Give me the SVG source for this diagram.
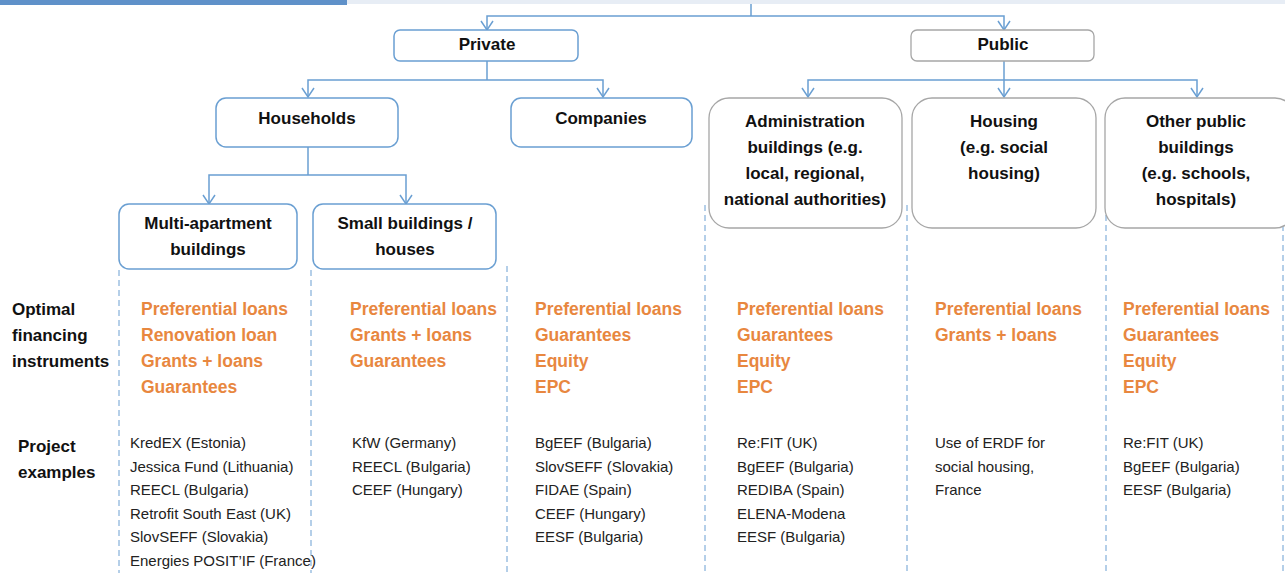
<svg xmlns="http://www.w3.org/2000/svg" width="1285" height="573" viewBox="0 0 1285 573">
<style>
  .bx{fill:#fff;stroke:#6a9fd2;stroke-width:1.5}
  .gx{fill:#fff;stroke:#a6a6a6;stroke-width:1.3}
  .h{font-family:"Liberation Sans",Arial,sans-serif;font-weight:bold;font-size:17px;fill:#111;text-anchor:middle}
  .lab{font-family:"Liberation Sans",Arial,sans-serif;font-weight:bold;font-size:17px;fill:#111}
  .or{font-family:"Liberation Sans",Arial,sans-serif;font-weight:bold;font-size:17.5px;fill:#e8873f}
  .ex{font-family:"Liberation Sans",Arial,sans-serif;font-size:15px;fill:#222}
  .c{fill:none;stroke:#6a9fd2;stroke-width:1.5}
  .d{fill:none;stroke:#6a9fd2;stroke-width:1;stroke-dasharray:6 4}
</style>
<defs>
  <marker id="v" markerWidth="12" markerHeight="14" refX="10" refY="7" orient="auto-start-reverse" markerUnits="userSpaceOnUse" viewBox="0 0 12 14">
    <polyline points="1,1 10,7 1,13" fill="none" stroke="#6a9fd2" stroke-width="1.5"/>
  </marker>
</defs>
<rect x="0" y="0" width="1285" height="573" fill="#fff"/>
<rect x="0" y="0" width="1285" height="4" fill="#e7edf5"/>
<rect x="0" y="0" width="347" height="5" fill="#5f91c9"/>

<g id="connectors">
  <path class="c" d="M751 4 V16"/>
  <path class="c" d="M487 30 V16 H1004 V30" marker-start="url(#v)" marker-end="url(#v)"/>
  <path class="c" d="M487 61 V80"/>
  <path class="c" d="M308 97 V80 H603 V97" marker-start="url(#v)" marker-end="url(#v)"/>
  <path class="c" d="M1004 61 V97" marker-end="url(#v)"/>
  <path class="c" d="M808 97 V80 H1197 V97" marker-start="url(#v)" marker-end="url(#v)"/>
  <path class="c" d="M308 147 V175"/>
  <path class="c" d="M209 204 V175 H406 V204" marker-start="url(#v)" marker-end="url(#v)"/>
</g>

<g id="guides">
  <path class="d" d="M119 270 V573"/>
  <path class="d" d="M311 270 V573"/>
  <path class="d" d="M507 266 V573"/>
  <path class="d" d="M705 205 V573"/>
  <path class="d" d="M907 205 V573"/>
  <path class="d" d="M1106 205 V573"/>
  <path class="d" d="M1283 205 V573"/>
</g>

<g id="private">
  <rect class="bx" x="394" y="30" width="184" height="31" rx="6"/>
  <text class="h" x="487" y="50">Private</text>
</g>
<g id="public">
  <rect class="gx" x="911" y="30" width="183" height="31" rx="6"/>
  <text class="h" x="1003" y="50">Public</text>
</g>
<g id="households">
  <rect class="bx" x="216" y="98" width="182" height="49" rx="10"/>
  <text class="h" x="307" y="124">Households</text>
</g>
<g id="companies">
  <rect class="bx" x="511" y="98" width="181" height="49" rx="10"/>
  <text class="h" x="601" y="124">Companies</text>
</g>
<g id="administration">
  <rect class="gx" x="709" y="98" width="193" height="130" rx="20"/>
  <text class="h" x="805" y="127">Administration</text>
  <text class="h" x="805" y="153">buildings (e.g.</text>
  <text class="h" x="805" y="179">local, regional,</text>
  <text class="h" x="805" y="205">national authorities)</text>
</g>
<g id="housing">
  <rect class="gx" x="912" y="98" width="184" height="130" rx="20"/>
  <text class="h" x="1004" y="127">Housing</text>
  <text class="h" x="1004" y="153">(e.g. social</text>
  <text class="h" x="1004" y="179">housing)</text>
</g>
<g id="other-public">
  <rect class="gx" x="1105" y="98" width="190" height="130" rx="20"/>
  <text class="h" x="1196" y="127">Other public</text>
  <text class="h" x="1196" y="153">buildings</text>
  <text class="h" x="1196" y="179">(e.g. schools,</text>
  <text class="h" x="1196" y="205">hospitals)</text>
</g>
<g id="multi-apartment">
  <rect class="bx" x="119" y="204" width="178" height="65" rx="10"/>
  <text class="h" x="208" y="229">Multi-apartment</text>
  <text class="h" x="208" y="255">buildings</text>
</g>
<g id="small-buildings">
  <rect class="bx" x="313" y="204" width="183" height="65" rx="10"/>
  <text class="h" x="405" y="229">Small buildings /</text>
  <text class="h" x="405" y="255">houses</text>
</g>

<g id="row-labels">
  <text class="lab" x="12" y="315">Optimal</text>
  <text class="lab" x="12" y="341">financing</text>
  <text class="lab" x="12" y="367">instruments</text>
  <text class="lab" x="18" y="452">Project</text>
  <text class="lab" x="18" y="478">examples</text>
</g>

<g id="instruments">
  <text class="or" x="141" y="315">Preferential loans</text>
  <text class="or" x="141" y="341">Renovation loan</text>
  <text class="or" x="141" y="367">Grants + loans</text>
  <text class="or" x="141" y="393">Guarantees</text>

  <text class="or" x="350" y="315">Preferential loans</text>
  <text class="or" x="350" y="341">Grants + loans</text>
  <text class="or" x="350" y="367">Guarantees</text>

  <text class="or" x="535" y="315">Preferential loans</text>
  <text class="or" x="535" y="341">Guarantees</text>
  <text class="or" x="535" y="367">Equity</text>
  <text class="or" x="535" y="393">EPC</text>

  <text class="or" x="737" y="315">Preferential loans</text>
  <text class="or" x="737" y="341">Guarantees</text>
  <text class="or" x="737" y="367">Equity</text>
  <text class="or" x="737" y="393">EPC</text>

  <text class="or" x="935" y="315">Preferential loans</text>
  <text class="or" x="935" y="341">Grants + loans</text>

  <text class="or" x="1123" y="315">Preferential loans</text>
  <text class="or" x="1123" y="341">Guarantees</text>
  <text class="or" x="1123" y="367">Equity</text>
  <text class="or" x="1123" y="393">EPC</text>
</g>

<g id="examples">
  <text class="ex" x="130" y="448">KredEX (Estonia)</text>
  <text class="ex" x="130" y="472">Jessica Fund (Lithuania)</text>
  <text class="ex" x="130" y="495">REECL (Bulgaria)</text>
  <text class="ex" x="130" y="519">Retrofit  South East (UK)</text>
  <text class="ex" x="130" y="542">SlovSEFF (Slovakia)</text>
  <text class="ex" x="130" y="566">Energies POSIT’IF (France)</text>

  <text class="ex" x="352" y="448">KfW (Germany)</text>
  <text class="ex" x="352" y="472">REECL (Bulgaria)</text>
  <text class="ex" x="352" y="495">CEEF (Hungary)</text>

  <text class="ex" x="535" y="448">BgEEF (Bulgaria)</text>
  <text class="ex" x="535" y="472">SlovSEFF (Slovakia)</text>
  <text class="ex" x="535" y="495">FIDAE (Spain)</text>
  <text class="ex" x="535" y="519">CEEF (Hungary)</text>
  <text class="ex" x="535" y="542">EESF (Bulgaria)</text>

  <text class="ex" x="737" y="448">Re:FIT (UK)</text>
  <text class="ex" x="737" y="472">BgEEF (Bulgaria)</text>
  <text class="ex" x="737" y="495">REDIBA (Spain)</text>
  <text class="ex" x="737" y="519">ELENA-Modena</text>
  <text class="ex" x="737" y="542">EESF (Bulgaria)</text>

  <text class="ex" x="935" y="448">Use of ERDF for</text>
  <text class="ex" x="935" y="472">social housing,</text>
  <text class="ex" x="935" y="495">France</text>

  <text class="ex" x="1123" y="448">Re:FIT (UK)</text>
  <text class="ex" x="1123" y="472">BgEEF (Bulgaria)</text>
  <text class="ex" x="1123" y="495">EESF (Bulgaria)</text>
</g>
</svg>
